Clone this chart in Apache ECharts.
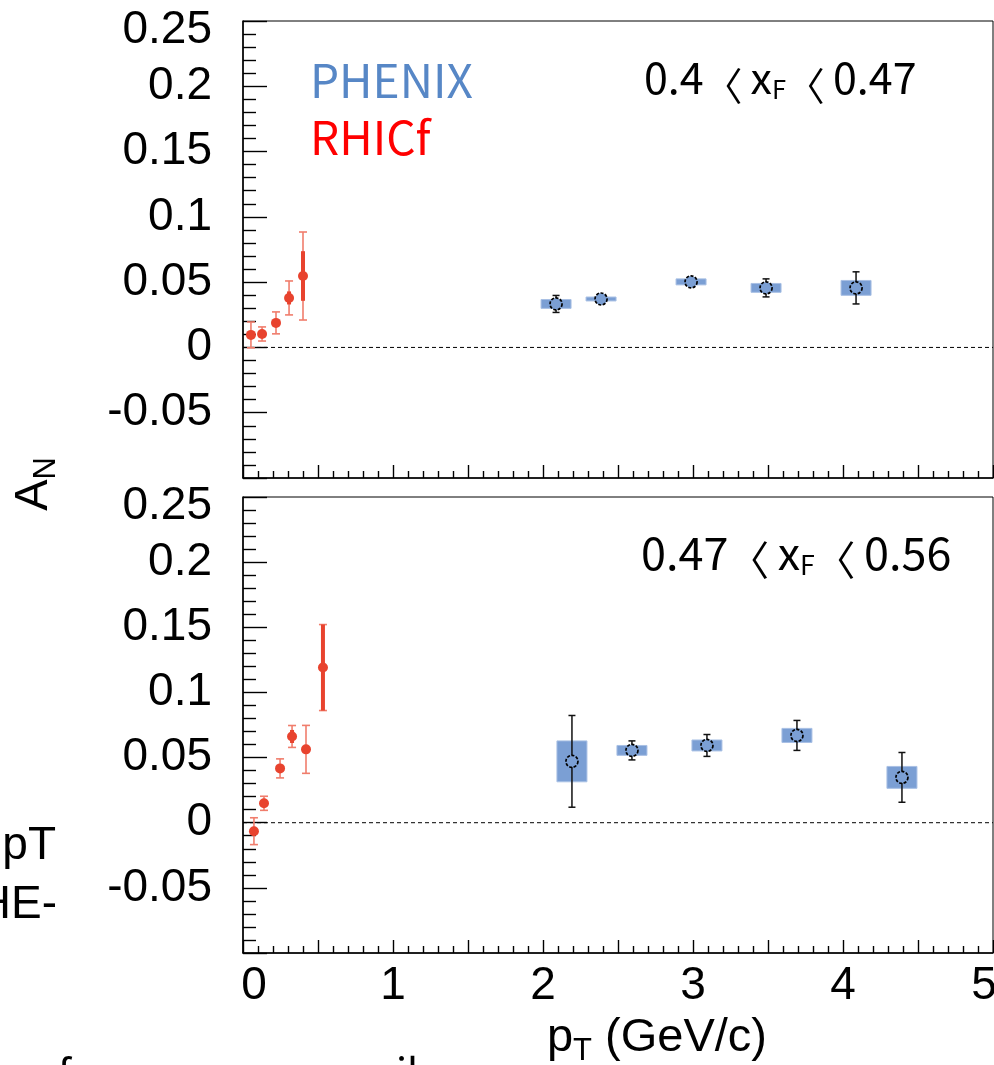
<!DOCTYPE html>
<html>
<head>
<meta charset="utf-8">
<script src="https://cdn.jsdelivr.net/npm/echarts@6/dist/echarts.min.js"></script>
<style>
  html, body { margin: 0; padding: 0; background: #fff; }
  #chart { width: 994px; height: 1065px; }
</style>
</head>
<body>
<div id="chart"></div>
<script>
// RHICf, 0.4 < xF < 0.47
var topRhicfX   = [0.053, 0.127, 0.220, 0.307, 0.400];
var topRhicfY   = [0.0096, 0.0103, 0.0188, 0.0379, 0.0547];
var topRhicfErr = [0.0099, 0.0054, 0.0084, 0.0130, 0.0337];
var topRhicfSys = [0.0020, 0.0020, 0.0030, 0.0050, 0.0190];
// RHICf, 0.47 < xF < 0.56
var botRhicfX   = [0.073, 0.140, 0.247, 0.327, 0.420, 0.533];
var botRhicfY   = [-0.0065, 0.0149, 0.0417, 0.0662, 0.0563, 0.1191];
var botRhicfErr = [0.0103, 0.0054, 0.0073, 0.0084, 0.0184, 0.0330];
var botRhicfSys = [0.0020, 0.0020, 0.0025, 0.0050, 0.0030, 0.0330];
// PHENIX, 0.4 < xF < 0.47
var topPhenixX   = [2.087, 2.387, 2.987, 3.487, 4.087];
var topPhenixY   = [0.0333, 0.0371, 0.0502, 0.0456, 0.0456];
var topPhenixErr = [0.0065, 0.0010, 0.0010, 0.0069, 0.0123];
var topPhenixSys = [0.0034, 0.0015, 0.0023, 0.0034, 0.0057];
// PHENIX, 0.47 < xF < 0.56
var botPhenixX   = [2.193, 2.593, 3.093, 3.693, 4.393];
var botPhenixY   = [0.0471, 0.0555, 0.0593, 0.0670, 0.0348];
var botPhenixErr = [0.0352, 0.0073, 0.0084, 0.0115, 0.0191];
var botPhenixSys = [0.0157, 0.0038, 0.0042, 0.0054, 0.0084];
var phenixHalfWidth = 0.1;

var yTicks = [-0.1, -0.05, 0, 0.05, 0.1, 0.15, 0.2, 0.25];
var xTicks = [0, 1, 2, 3, 4, 5];

function zip(xs, ys, es, ss) {
  return xs.map(function (x, i) { return [x, ys[i], es[i], ss[i]]; });
}

var axisFont = 'Liberation Sans, Arial, sans-serif';
var noteFont = '"Noto Sans CJK KR", "Noto Sans", sans-serif';

function rhicfItem(params, api) {
  var x = api.value(0), y = api.value(1), e = api.value(2), s = api.value(3);
  var c = api.coord([x, y]);
  var t = api.coord([x, y + e]), b = api.coord([x, y - e]);
  var st = api.coord([x, y + s]), sb = api.coord([x, y - s]);
  var cap = 4;
  return {
    type: 'group',
    children: [
      { type: 'line', shape: { x1: c[0], y1: t[1], x2: c[0], y2: b[1] }, style: { stroke: '#f07d6c', lineWidth: 1.6 } },
      { type: 'line', shape: { x1: c[0] - cap, y1: t[1], x2: c[0] + cap, y2: t[1] }, style: { stroke: '#f07d6c', lineWidth: 1.6 } },
      { type: 'line', shape: { x1: c[0] - cap, y1: b[1], x2: c[0] + cap, y2: b[1] }, style: { stroke: '#f07d6c', lineWidth: 1.6 } },
      { type: 'line', shape: { x1: c[0], y1: st[1], x2: c[0], y2: sb[1] }, style: { stroke: '#e8432e', lineWidth: 4 } },
      { type: 'circle', shape: { cx: c[0], cy: c[1], r: 5 }, style: { fill: '#e8432e' } }
    ]
  };
}

function phenixItem(params, api) {
  var x = api.value(0), y = api.value(1), e = api.value(2), s = api.value(3);
  var c = api.coord([x, y]);
  var tl = api.coord([x - phenixHalfWidth, y + s]);
  var br = api.coord([x + phenixHalfWidth, y - s]);
  var t = api.coord([x, y + e]), b = api.coord([x, y - e]);
  var cap = 3.5;
  return {
    type: 'group',
    children: [
      { type: 'rect', shape: { x: tl[0], y: tl[1], width: br[0] - tl[0], height: br[1] - tl[1] },
        style: { fill: '#7b9fd4', stroke: '#a9c0e4', lineWidth: 1 } },
      { type: 'line', shape: { x1: c[0], y1: t[1], x2: c[0], y2: b[1] }, style: { stroke: '#111', lineWidth: 1.5 } },
      { type: 'line', shape: { x1: c[0] - cap, y1: t[1], x2: c[0] + cap, y2: t[1] }, style: { stroke: '#111', lineWidth: 1.5 } },
      { type: 'line', shape: { x1: c[0] - cap, y1: b[1], x2: c[0] + cap, y2: b[1] }, style: { stroke: '#111', lineWidth: 1.5 } },
      { type: 'circle', shape: { cx: c[0], cy: c[1], r: 6 },
        style: { fill: '#7b9fd4', stroke: '#000', lineWidth: 1.7, lineDash: [3, 1.5] } }
    ]
  };
}

function yLabel(v) {
  if (v < -0.09) return '';
  var s = String(+v.toFixed(2));
  if (v > 0.24) return '{t|' + s + '}';
  return s;
}
function xLabel(v) {
  if (Math.abs(v - Math.round(v)) > 1e-6) return '';
  if (v === 0) return '{l|0}';
  if (v === 5) return '{r|5}';
  return String(v);
}
var labelRich = {
  t: { fontSize: 46, fontFamily: axisFont, color: '#000', padding: [18, 0, 0, 0] },
  l: { fontSize: 46, fontFamily: axisFont, color: '#000', padding: [0, 0, 0, 22] },
  r: { fontSize: 46, fontFamily: axisFont, color: '#000', padding: [0, 18, 0, 0] }
};

function makeY(idx) {
  return {
    type: 'value', gridIndex: idx,
    min: yTicks[0], max: yTicks[yTicks.length - 1], interval: 0.05,
    axisLine: { show: true, lineStyle: { color: '#000', width: 1.5 } },
    axisTick: { show: true, inside: true, length: 24, lineStyle: { color: '#000', width: 1.4 } },
    minorTick: { show: true, splitNumber: 5, length: 13, lineStyle: { color: '#000', width: 1.4 } },
    splitLine: { show: false },
    axisLabel: { fontSize: 46, fontFamily: axisFont, color: '#000', margin: 31, formatter: yLabel, rich: labelRich }
  };
}
function makeX(idx, showLabel) {
  return {
    type: 'value', gridIndex: idx,
    min: xTicks[0], max: xTicks[xTicks.length - 1], interval: 0.5,
    axisLine: { show: true, onZero: false, lineStyle: { color: '#000', width: 1.5 } },
    axisTick: { show: true, inside: true, length: 13, lineStyle: { color: '#000', width: 1.4 } },
    minorTick: { show: true, splitNumber: 5, length: 7, lineStyle: { color: '#000', width: 1.4 } },
    splitLine: { show: false },
    axisLabel: { show: showLabel, fontSize: 46, fontFamily: axisFont, color: '#000', margin: 10,
                 formatter: xLabel, rich: labelRich }
  };
}

function zeroLine(idx) {
  return {
    type: 'line', xAxisIndex: idx, yAxisIndex: idx, silent: true, symbol: 'none',
    data: [[xTicks[0], 0], [xTicks[xTicks.length - 1], 0]],
    lineStyle: { color: '#000', width: 1, type: [4, 3] }, z: 1
  };
}

// x_F range label with chevron-style "<"
function rangeText(a, b) {
  return a + '{b|〈}x{s|F}{b|〈}' + b;
}
function rangeRich(k) {
  return {
    b: { fontSize: 38 * k, fontFamily: noteFont, padding: [14 * k, 8 * k, 0, 0] },
    s: { fontSize: 25 * k, fontFamily: noteFont, padding: [22 * k, 0, 0, 0] }
  };
}

var chart = echarts.init(document.getElementById('chart'));
chart.setOption({
  backgroundColor: '#fff',
  animation: false,
  grid: [
    { left: 243, top: 21, width: 750, height: 457, show: true, borderColor: '#000', borderWidth: 1, outerBoundsMode: 'none' },
    { left: 243, top: 497, width: 750, height: 456, show: true, borderColor: '#000', borderWidth: 1, outerBoundsMode: 'none' }
  ],
  xAxis: [makeX(0, false), makeX(1, true)],
  yAxis: [makeY(0), makeY(1)],
  series: [
    zeroLine(0),
    zeroLine(1),
    { type: 'custom', name: 'PHENIX', xAxisIndex: 0, yAxisIndex: 0, renderItem: phenixItem,
      encode: { x: 0, y: 1 }, data: zip(topPhenixX, topPhenixY, topPhenixErr, topPhenixSys), z: 3 },
    { type: 'custom', name: 'PHENIX', xAxisIndex: 1, yAxisIndex: 1, renderItem: phenixItem,
      encode: { x: 0, y: 1 }, data: zip(botPhenixX, botPhenixY, botPhenixErr, botPhenixSys), z: 3 },
    { type: 'custom', name: 'RHICf', xAxisIndex: 0, yAxisIndex: 0, renderItem: rhicfItem,
      encode: { x: 0, y: 1 }, data: zip(topRhicfX, topRhicfY, topRhicfErr, topRhicfSys), z: 4 },
    { type: 'custom', name: 'RHICf', xAxisIndex: 1, yAxisIndex: 1, renderItem: rhicfItem,
      encode: { x: 0, y: 1 }, data: zip(botRhicfX, botRhicfY, botRhicfErr, botRhicfSys), z: 4 }
  ],
  graphic: [
    { type: 'text', x: 310, y: 81, style: { text: 'PHENIX', fill: '#5787c6', font: '46px ' + noteFont, verticalAlign: 'middle' } },
    { type: 'text', x: 310, y: 138, style: { text: 'RHICf', fill: '#ff0000', font: '46px ' + noteFont, verticalAlign: 'middle' } },
    { type: 'text', x: 644, y: 78, style: {
        text: rangeText('0.4', '0.47'), fill: '#000', font: '43px ' + noteFont, verticalAlign: 'middle', rich: rangeRich(1.02) } },
    { type: 'text', x: 641, y: 553, style: {
        text: rangeText('0.47', '0.56'), fill: '#000', font: '45px ' + noteFont, verticalAlign: 'middle', rich: rangeRich(1.07) } },
    { type: 'text', x: 34, y: 484, rotation: Math.PI / 2, style: {
        text: 'A{s|N}', fill: '#000', font: '47px ' + axisFont, align: 'center', verticalAlign: 'middle',
        rich: { s: { fontSize: 31, fontFamily: axisFont, padding: [24, 0, 0, 0] } } } },
    { type: 'text', x: 657, y: 1038, style: {
        text: 'p{s|T} (GeV/c)', fill: '#000', font: '47px ' + axisFont, align: 'center', verticalAlign: 'middle',
        rich: { s: { fontSize: 31, fontFamily: axisFont, padding: [26, 0, 0, 0] } } } },
    { type: 'text', x: 56, y: 846, style: { text: 'pT', fill: '#000', font: '46px ' + axisFont, align: 'right', verticalAlign: 'middle' } },
    { type: 'text', x: 57, y: 905, style: { text: 'HE-', fill: '#000', font: '46px ' + axisFont, align: 'right', verticalAlign: 'middle' } },
    { type: 'text', x: 58, y: 1054, style: { text: 'f', fill: '#000', font: '40px ' + noteFont, verticalAlign: 'top' } },
    { type: 'text', x: 396, y: 1052, style: { text: 'il', fill: '#000', font: '40px ' + noteFont, verticalAlign: 'top' } }
  ]
});
</script>
</body>
</html>
